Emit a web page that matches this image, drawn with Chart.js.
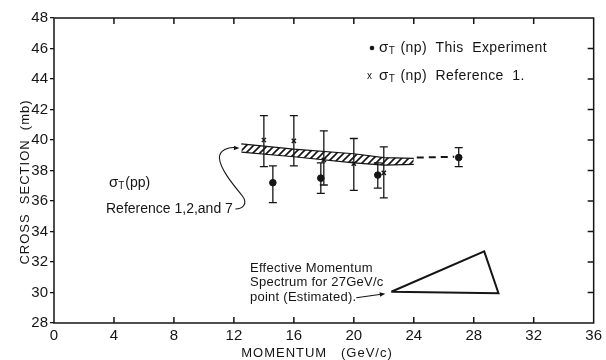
<!DOCTYPE html>
<html>
<head>
<meta charset="utf-8">
<script src="https://cdn.jsdelivr.net/npm/chart.js@4"></script>
<style>
  html, body { margin: 0; padding: 0; background: #fff; }
  #wrap { width: 606px; height: 360px; }
</style>
</head>
<body>
<div id="wrap"><canvas id="crossChart" width="606" height="360"></canvas></div>
<script>
// ========================
// DATA
// ========================
const xTicks = [0, 4, 8, 12, 16, 20, 24, 28, 32, 36];
const yTicks = [28, 30, 32, 34, 36, 38, 40, 42, 44, 46, 48];

// sigma_T(np), this experiment
const expMomentum = [14.6, 17.8, 21.6, 27.0];
const expSigma    = [37.2, 37.5, 37.7, 38.85];
const expLow      = [35.9, 36.5, 36.85, 38.25];
const expHigh     = [38.3, 38.5, 38.5, 39.5];

// sigma_T(np), reference 1
const refMomentum = [14.0, 16.0, 18.0, 20.0, 22.0];
const refSigma    = [40.0, 39.95, 38.7, 38.45, 37.85];
const refLow      = [38.25, 38.3, 37.05, 36.7, 36.2];
const refHigh     = [41.6, 41.6, 40.6, 40.1, 39.55];

// sigma_T(pp) hatched band, refs 1, 2 and 7
const ppMomentum = [12.5, 16, 20, 22, 24];
const ppUpper    = [39.75, 39.4, 39.1, 38.85, 38.8];
const ppLower    = [39.2, 38.9, 38.5, 38.35, 38.4];

// dashed extension to the 27 GeV/c point
const dashMomentum = [24.2, 26.7];
const dashSigma    = [38.85, 38.9];

// effective momentum spectrum (triangle)
const spectrumMomentum = [22.5, 28.7, 29.65, 22.5];
const spectrumSigma    = [30.05, 32.7, 29.95, 30.05];

const xTitle = "MOMENTUM   (GeV/c)";
const yTitle = "CROSS  SECTION  (mb)";
const legendLabels = ["(np)  This  Experiment", "(np)  Reference  1."];
const ppLabel = "(pp)";
const ppRefLabel = "Reference 1,2,and 7";
const spectrumLines = ["Effective Momentum", "Spectrum for 27GeV/c", "point (Estimated)."];

const INK = "#151515";
const FONT = "'Liberation Sans', Arial, sans-serif";

// ========================
// HELPERS
// ========================
const pts = (xs, ys) => xs.map((v, i) => ({ x: v, y: ys[i] }));

function makeHatch() {
  const c = document.createElement("canvas");
  c.width = 7; c.height = 7;
  const g = c.getContext("2d");
  g.strokeStyle = INK;
  g.lineWidth = 1.6;
  g.beginPath();
  g.moveTo(0, 7); g.lineTo(7, 0);
  g.moveTo(-1, 1); g.lineTo(1, -1);
  g.moveTo(6, 8); g.lineTo(8, 6);
  g.stroke();
  return g.createPattern(c, "repeat");
}

function arrowHead(ctx, tx, ty, fromX, fromY, size) {
  const ang = Math.atan2(ty - fromY, tx - fromX);
  ctx.beginPath();
  ctx.moveTo(tx, ty);
  ctx.lineTo(tx - size * Math.cos(ang - 0.4), ty - size * Math.sin(ang - 0.4));
  ctx.lineTo(tx - size * Math.cos(ang + 0.4), ty - size * Math.sin(ang + 0.4));
  ctx.closePath();
  ctx.fill();
}

// sigma with subscript T, then the rest of the label
function sigmaLabel(ctx, x, y, rest, size) {
  ctx.font = `${size + 1}px ${FONT}`;
  ctx.fillText("σ", x, y);
  let w = ctx.measureText("σ").width;
  ctx.font = `${size - 4}px ${FONT}`;
  ctx.fillText("T", x + w, y + 3);
  w += ctx.measureText("T").width + 1;
  ctx.font = `${size}px ${FONT}`;
  ctx.fillText(rest, x + w, y);
}

function errorBars(ctx, xs, lo, hi, xs_, ys_) {
  xs.forEach((v, i) => {
    const px = xs_.getPixelForValue(v);
    const top = ys_.getPixelForValue(hi[i]);
    const bot = ys_.getPixelForValue(lo[i]);
    ctx.moveTo(px, top); ctx.lineTo(px, bot);
    ctx.moveTo(px - 4, top); ctx.lineTo(px + 4, top);
    ctx.moveTo(px - 4, bot); ctx.lineTo(px + 4, bot);
  });
}

// ========================
// OVERLAY PLUGIN
// ========================
const overlay = {
  id: "overlay",
  beforeDatasetsDraw(chart) {
    const { ctx, scales: { x, y } } = chart;
    ctx.save();
    ctx.strokeStyle = INK;
    ctx.lineWidth = 1.3;
    ctx.beginPath();
    errorBars(ctx, expMomentum, expLow, expHigh, x, y);
    errorBars(ctx, refMomentum, refLow, refHigh, x, y);
    ctx.stroke();
    ctx.restore();
  },
  afterDatasetsDraw(chart) {
    const { ctx, chartArea: a, scales: { x, y } } = chart;
    ctx.save();
    ctx.strokeStyle = INK;
    ctx.fillStyle = INK;

    // frame + inward ticks
    ctx.lineWidth = 1.5;
    ctx.strokeRect(a.left, a.top, a.right - a.left, a.bottom - a.top);
    ctx.beginPath();
    xTicks.slice(1, -1).forEach(v => {
      const px = x.getPixelForValue(v);
      ctx.moveTo(px, a.bottom); ctx.lineTo(px, a.bottom - 6);
      ctx.moveTo(px, a.top); ctx.lineTo(px, a.top + 6);
    });
    yTicks.slice(1, -1).forEach(v => {
      const py = y.getPixelForValue(v);
      ctx.moveTo(a.right, py); ctx.lineTo(a.right - 6, py);
    });
    ctx.stroke();

    ctx.textBaseline = "middle";
    ctx.letterSpacing = "0.4px";

    // legend
    ctx.beginPath();
    ctx.arc(372, 48, 2.3, 0, Math.PI * 2);
    ctx.fill();
    sigmaLabel(ctx, 379, 48, " " + legendLabels[0], 14);
    ctx.font = `10px ${FONT}`;
    ctx.fillText("x", 367, 76);
    sigmaLabel(ctx, 379, 76, " " + legendLabels[1], 14);

    // pp band label + curved arrow to the band
    ctx.letterSpacing = "0px";
    sigmaLabel(ctx, 109, 183, ppLabel, 14);
    ctx.font = `14px ${FONT}`;
    ctx.fillText(ppRefLabel, 106, 209);

    const tx = x.getPixelForValue(ppMomentum[0]) - 2;
    const ty = y.getPixelForValue((ppUpper[0] + ppLower[0]) / 2);
    ctx.lineWidth = 1.1;
    ctx.beginPath();
    ctx.moveTo(tx - 4, ty + 61);
    ctx.bezierCurveTo(tx + 3, ty + 61, tx + 9, ty + 56, tx + 3, ty + 48);
    ctx.bezierCurveTo(tx - 5, ty + 38, tx - 19, ty + 22, tx - 20, ty + 10);
    ctx.bezierCurveTo(tx - 20, ty + 2, tx - 11, ty - 1, tx - 4, ty - 0.5);
    ctx.stroke();
    arrowHead(ctx, tx, ty, tx - 8, ty, 6);

    // spectrum text + arrow to triangle
    ctx.font = `13px ${FONT}`;
    ctx.letterSpacing = "0.25px";
    spectrumLines.forEach((s, i) => ctx.fillText(s, 250, 268 + i * 14.5));
    const sx = x.getPixelForValue(spectrumMomentum[0]) - 6;
    const sy = y.getPixelForValue(spectrumSigma[0]) + 2;
    ctx.beginPath();
    ctx.moveTo(sx - 29, sy + 4);
    ctx.lineTo(sx - 4, sy + 0.5);
    ctx.stroke();
    arrowHead(ctx, sx, sy, sx - 29, sy + 4, 6);

    // axis titles
    ctx.letterSpacing = "1px";
    ctx.textAlign = "center";
    ctx.font = `13px ${FONT}`;
    ctx.fillText(xTitle, 317, 353);
    ctx.translate(25, 182);
    ctx.rotate(-Math.PI / 2);
    ctx.fillText(yTitle, 0, 0);
    ctx.restore();
  }
};

// ========================
// CHART
// ========================
const hatch = makeHatch();

new Chart(document.getElementById("crossChart"), {
  type: "line",
  data: {
    datasets: [
      {
        label: "pp upper",
        data: pts(ppMomentum, ppUpper),
        borderColor: INK,
        borderWidth: 1.2,
        pointRadius: 0,
        fill: "+1",
        backgroundColor: hatch
      },
      {
        label: "pp lower",
        data: pts(ppMomentum, ppLower),
        borderColor: INK,
        borderWidth: 1.2,
        pointRadius: 0,
        fill: false
      },
      {
        label: "dash",
        data: pts(dashMomentum, dashSigma),
        borderColor: INK,
        borderWidth: 2,
        borderDash: [7, 5],
        pointRadius: 0,
        fill: false
      },
      {
        label: "spectrum",
        data: pts(spectrumMomentum, spectrumSigma),
        borderColor: INK,
        borderWidth: 2,
        pointRadius: 0,
        fill: false
      },
      {
        label: "This Experiment",
        data: pts(expMomentum, expSigma),
        showLine: false,
        pointStyle: "circle",
        pointRadius: 3.3,
        backgroundColor: INK,
        borderColor: INK
      },
      {
        label: "Reference 1",
        data: pts(refMomentum, refSigma),
        showLine: false,
        pointStyle: "crossRot",
        pointRadius: 3,
        borderWidth: 1.4,
        borderColor: INK
      }
    ]
  },
  options: {
    responsive: false,
    animation: false,
    devicePixelRatio: 1,
    layout: { padding: { top: 18, right: 8, left: 0, bottom: 0 } },
    plugins: {
      legend: { display: false },
      tooltip: { enabled: false }
    },
    scales: {
      x: {
        type: "linear",
        min: 0,
        max: 36,
        afterFit: s => { s.height = 37; },
        afterBuildTicks: s => { s.ticks = xTicks.map(v => ({ value: v })); },
        grid: { drawOnChartArea: false, drawTicks: false },
        border: { display: false },
        ticks: {
          padding: 4,
          maxRotation: 0,
          color: INK,
          font: { family: FONT, size: 15 }
        }
      },
      y: {
        min: 28,
        max: 48,
        afterFit: s => { s.width = 54; },
        afterBuildTicks: s => { s.ticks = yTicks.map(v => ({ value: v })); },
        grid: { drawOnChartArea: false, drawTicks: true, tickLength: 4, color: INK, lineWidth: 1.3 },
        border: { display: false },
        ticks: {
          padding: 2,
          color: INK,
          font: { family: FONT, size: 15 }
        }
      }
    }
  },
  plugins: [overlay]
});
</script>
</body>
</html>
